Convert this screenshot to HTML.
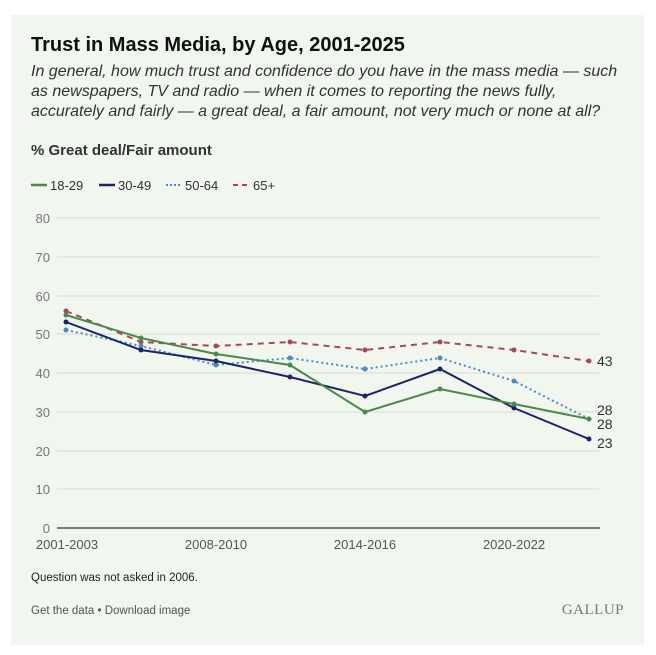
<!DOCTYPE html><html><head><meta charset="utf-8"><style>
body{margin:0;background:#fff;width:656px;height:655px;overflow:hidden;font-family:"Liberation Sans",sans-serif}
.p{position:absolute;left:11px;top:15px;width:633px;height:630px;background:#f1f6ee}
.t{position:absolute;left:31px;top:34px;font-size:20px;font-weight:bold;color:#111}
.s{position:absolute;left:31px;top:62px;font-size:16px;font-style:italic;color:#333;line-height:20px;width:598px}
.m{position:absolute;left:31px;top:142px;font-size:15px;font-weight:bold;color:#333}
</style></head><body><div class="p"></div>
<div class="t">Trust in Mass Media, by Age, 2001-2025</div>
<div class="s">In general, how much trust and confidence do you have in the mass media — such as newspapers, TV and radio — when it comes to reporting the news fully, accurately and fairly — a great deal, a fair amount, not very much or none at all?</div>
<div class="m">% Great deal/Fair amount</div>
<svg style="position:absolute;left:0;top:0" width="656" height="655" font-family="Liberation Sans, sans-serif">
<g font-size="13" fill="#333">
<line x1="31" y1="185" x2="47" y2="185" stroke="#4a8a4a" stroke-width="2.5"/><text x="50" y="190">18-29</text>
<line x1="99" y1="185" x2="115" y2="185" stroke="#1a2466" stroke-width="2.5"/><text x="118" y="190">30-49</text>
<line x1="166" y1="185" x2="182" y2="185" stroke="#4a8ac8" stroke-width="2" stroke-dasharray="2 2"/><text x="185" y="190">50-64</text>
<line x1="233" y1="185" x2="249" y2="185" stroke="#a84a55" stroke-width="2" stroke-dasharray="5 4"/><text x="253" y="190">65+</text>
</g>
<g stroke="#d8dcd6" stroke-width="1">
<line x1="57" x2="599" y1="218" y2="218"/><line x1="57" x2="599" y1="257" y2="257"/><line x1="57" x2="599" y1="296" y2="296"/><line x1="57" x2="599" y1="334" y2="334"/><line x1="57" x2="599" y1="373" y2="373"/><line x1="57" x2="599" y1="412" y2="412"/><line x1="57" x2="599" y1="451" y2="451"/><line x1="57" x2="599" y1="489" y2="489"/></g>
<line x1="57" x2="600" y1="528" y2="528" stroke="#333" stroke-width="1.2"/>
<g font-size="13" fill="#777" text-anchor="end">
<text x="50" y="223">80</text><text x="50" y="262">70</text><text x="50" y="301">60</text><text x="50" y="339">50</text><text x="50" y="378">40</text><text x="50" y="417">30</text><text x="50" y="456">20</text><text x="50" y="494">10</text><text x="50" y="533">0</text></g>
<g font-size="13" fill="#555" text-anchor="middle">
<text x="67" y="549">2001-2003</text><text x="216" y="549">2008-2010</text><text x="365" y="549">2014-2016</text><text x="514" y="549">2020-2022</text></g>
<polyline fill="none" stroke="#a84a55" stroke-width="2" stroke-dasharray="6 5" points="66,311 141,342 216,346 290,342 365,350 440,342 514,350 589,361"/>
<polyline fill="none" stroke="#4a8ac8" stroke-width="2" stroke-dasharray="2 3" points="66,330 141,346 216,365 290,358 365,369 440,358 514,381 589,419"/>
<polyline fill="none" stroke="#1a2466" stroke-width="2" points="66,322 141,350 216,361 290,377 365,396 440,369 514,408 589,439"/>
<polyline fill="none" stroke="#4a8a4a" stroke-width="2" points="66,315 141,338 216,354 290,365 365,412 440,389 514,404 589,419"/>
<g fill="#a84a55"><circle cx="66" cy="311" r="2.5"/><circle cx="141" cy="342" r="2.5"/><circle cx="216" cy="346" r="2.5"/><circle cx="290" cy="342" r="2.5"/><circle cx="365" cy="350" r="2.5"/><circle cx="440" cy="342" r="2.5"/><circle cx="514" cy="350" r="2.5"/><circle cx="589" cy="361" r="2.5"/></g>
<g fill="#4a8ac8"><circle cx="66" cy="330" r="2.5"/><circle cx="141" cy="346" r="2.5"/><circle cx="216" cy="365" r="2.5"/><circle cx="290" cy="358" r="2.5"/><circle cx="365" cy="369" r="2.5"/><circle cx="440" cy="358" r="2.5"/><circle cx="514" cy="381" r="2.5"/></g>
<g fill="#1a2466"><circle cx="66" cy="322" r="2.5"/><circle cx="141" cy="350" r="2.5"/><circle cx="216" cy="361" r="2.5"/><circle cx="290" cy="377" r="2.5"/><circle cx="365" cy="396" r="2.5"/><circle cx="440" cy="369" r="2.5"/><circle cx="514" cy="408" r="2.5"/><circle cx="589" cy="439" r="2.5"/></g>
<g fill="#4a8a4a"><circle cx="66" cy="315" r="2.5"/><circle cx="141" cy="338" r="2.5"/><circle cx="216" cy="354" r="2.5"/><circle cx="290" cy="365" r="2.5"/><circle cx="365" cy="412" r="2.5"/><circle cx="440" cy="389" r="2.5"/><circle cx="514" cy="404" r="2.5"/><circle cx="589" cy="419" r="2.5"/></g>
<g font-size="14" fill="#333"><text x="597" y="366">43</text><text x="597" y="415">28</text><text x="597" y="429">28</text><text x="597" y="448">23</text></g>
<text x="31" y="581" font-size="11.5" fill="#222">Question was not asked in 2006.</text>
<text x="31" y="614" font-size="11.5" fill="#555">Get the data • Download image</text>
<text x="624" y="614" font-size="15" fill="#777" text-anchor="end" font-family="Liberation Serif, serif" letter-spacing="0.5">GALLUP</text>
</svg></body></html>
